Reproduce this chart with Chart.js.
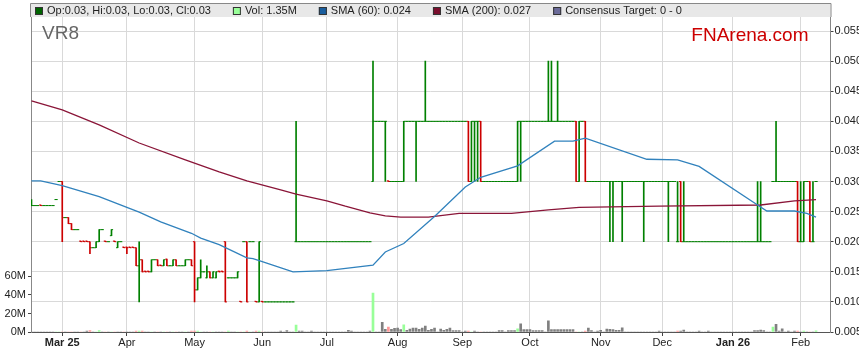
<!DOCTYPE html>
<html>
<head>
<meta charset="utf-8">
<title>VR8</title>
<script src="https://cdn.jsdelivr.net/npm/chart.js@4.4.1/dist/chart.umd.min.js"></script>
<style>
  html, body { margin: 0; padding: 0; background: #fff; }
  #wrap { width: 859px; height: 363px; }
</style>
</head>
<body>
<div id="wrap"><canvas id="graphCanvas" width="859" height="363"></canvas></div>
<script>
// one entry per weekday, starting Mon 17 Feb 2025
var startDate = "2025-02-17";
var monthLabels = ["Mar 25", "Apr", "May", "Jun", "Jul", "Aug", "Sep", "Oct", "Nov", "Dec", "Jan 26", "Feb"];
var volTicks = [0, 20, 40, 60];

var opens = [
  0.026, 0.026, 0.026, 0.0261, 0.026, 0.026, 0.026, 0.026, 0.027, 0.030,
  0.030, 0.024, 0.024, 0.023, 0.022, 0.022, 0.0201, 0.0201, 0.0201, 0.020,
  0.019, 0.019, 0.020, 0.022, 0.0201, 0.020, 0.021, 0.0201, 0.019, 0.020,
  0.0191, 0.0191, 0.0191, 0.0191, 0.019, 0.016, 0.017, 0.0151, 0.0151, 0.015,
  0.017, 0.017, 0.0161, 0.016, 0.0171, 0.016, 0.016, 0.017, 0.016, 0.016,
  0.016, 0.017, 0.017, 0.020, 0.012, 0.014, 0.015, 0.014, 0.015, 0.014,
  0.014, 0.0151, 0.0151, 0.020, 0.014, 0.014, 0.014, 0.014, 0.0101, 0.020,
  0.020, 0.020, 0.020, 0.0101, 0.010, 0.0101, 0.010, 0.010, 0.010, 0.010,
  0.010, 0.010, 0.010, 0.010, 0.010, 0.010, 0.020, 0.020, 0.020, 0.020,
  0.020, 0.020, 0.020, 0.020, 0.020, 0.020, 0.020, 0.020, 0.020, 0.020,
  0.020, 0.020, 0.020, 0.020, 0.020, 0.020, 0.020, 0.020, 0.020, 0.020,
  0.020, 0.030, 0.040, 0.040, 0.040, 0.040, 0.0301, 0.030, 0.030, 0.030,
  0.030, 0.030, 0.040, 0.040, 0.040, 0.040, 0.040, 0.040, 0.040, 0.040,
  0.040, 0.040, 0.040, 0.040, 0.040, 0.040, 0.040, 0.040, 0.040, 0.040,
  0.040, 0.040, 0.040, 0.030, 0.040, 0.040, 0.040, 0.030, 0.030, 0.030,
  0.030, 0.030, 0.030, 0.030, 0.030, 0.030, 0.030, 0.030, 0.030, 0.040,
  0.040, 0.040, 0.040, 0.040, 0.040, 0.040, 0.040, 0.040, 0.040, 0.040,
  0.040, 0.040, 0.040, 0.040, 0.040, 0.040, 0.040, 0.040, 0.030, 0.040,
  0.040, 0.030, 0.030, 0.030, 0.030, 0.030, 0.030, 0.030, 0.030, 0.030,
  0.030, 0.030, 0.030, 0.030, 0.030, 0.030, 0.030, 0.030, 0.030, 0.030,
  0.030, 0.030, 0.030, 0.030, 0.030, 0.030, 0.030, 0.030, 0.030, 0.030,
  0.020, 0.030, 0.020, 0.020, 0.020, 0.020, 0.020, 0.020, 0.020, 0.020,
  0.020, 0.020, 0.020, 0.020, 0.020, 0.020, 0.020, 0.020, 0.020, 0.020,
  0.020, 0.020, 0.020, 0.020, 0.020, 0.020, 0.020, 0.020, 0.020, 0.020,
  0.020, 0.030, 0.030, 0.030, 0.030, 0.030, 0.030, 0.030, 0.030, 0.030,
  0.020, 0.020, 0.030, 0.030, 0.020, 0.030
];
var highs = [
  0.027, 0.026, 0.026, 0.0261, 0.026, 0.026, 0.026, 0.026, 0.027, 0.030,
  0.030, 0.024, 0.024, 0.023, 0.022, 0.022, 0.0201, 0.0201, 0.0201, 0.020,
  0.019, 0.020, 0.022, 0.022, 0.0201, 0.020, 0.022, 0.0201, 0.020, 0.020,
  0.0191, 0.0191, 0.0191, 0.0191, 0.019, 0.020, 0.017, 0.0151, 0.0151, 0.017,
  0.017, 0.017, 0.0161, 0.017, 0.0171, 0.016, 0.017, 0.017, 0.016, 0.016,
  0.017, 0.017, 0.017, 0.020, 0.014, 0.017, 0.015, 0.016, 0.015, 0.015,
  0.015, 0.0151, 0.0151, 0.020, 0.014, 0.014, 0.014, 0.015, 0.0101, 0.020,
  0.020, 0.020, 0.020, 0.0101, 0.020, 0.0101, 0.010, 0.010, 0.010, 0.010,
  0.010, 0.010, 0.010, 0.010, 0.010, 0.010, 0.040, 0.020, 0.020, 0.020,
  0.020, 0.020, 0.020, 0.020, 0.020, 0.020, 0.020, 0.020, 0.020, 0.020,
  0.020, 0.020, 0.020, 0.020, 0.020, 0.020, 0.020, 0.020, 0.020, 0.020,
  0.020, 0.050, 0.040, 0.040, 0.040, 0.040, 0.0301, 0.030, 0.030, 0.030,
  0.030, 0.040, 0.040, 0.040, 0.040, 0.040, 0.040, 0.040, 0.050, 0.040,
  0.040, 0.040, 0.040, 0.040, 0.040, 0.040, 0.040, 0.040, 0.040, 0.040,
  0.040, 0.040, 0.040, 0.040, 0.040, 0.040, 0.040, 0.030, 0.030, 0.030,
  0.030, 0.030, 0.030, 0.030, 0.030, 0.030, 0.030, 0.030, 0.040, 0.040,
  0.040, 0.040, 0.040, 0.040, 0.040, 0.040, 0.040, 0.040, 0.050, 0.050,
  0.040, 0.050, 0.040, 0.040, 0.040, 0.040, 0.040, 0.040, 0.040, 0.040,
  0.040, 0.030, 0.030, 0.030, 0.030, 0.030, 0.030, 0.030, 0.030, 0.030,
  0.030, 0.030, 0.030, 0.030, 0.030, 0.030, 0.030, 0.030, 0.030, 0.030,
  0.030, 0.030, 0.030, 0.030, 0.030, 0.030, 0.030, 0.030, 0.030, 0.030,
  0.030, 0.030, 0.030, 0.020, 0.020, 0.020, 0.020, 0.020, 0.020, 0.020,
  0.020, 0.020, 0.020, 0.020, 0.020, 0.020, 0.020, 0.020, 0.020, 0.020,
  0.020, 0.020, 0.020, 0.020, 0.020, 0.020, 0.030, 0.030, 0.020, 0.020,
  0.020, 0.030, 0.040, 0.030, 0.030, 0.030, 0.030, 0.030, 0.030, 0.030,
  0.030, 0.030, 0.030, 0.030, 0.030, 0.030
];
var lows = [
  0.026, 0.026, 0.026, 0.026, 0.026, 0.026, 0.026, 0.026, 0.027, 0.030,
  0.020, 0.024, 0.023, 0.022, 0.022, 0.022, 0.020, 0.020, 0.020, 0.018,
  0.019, 0.019, 0.020, 0.022, 0.020, 0.020, 0.021, 0.020, 0.019, 0.020,
  0.019, 0.018, 0.019, 0.019, 0.016, 0.010, 0.015, 0.015, 0.015, 0.015,
  0.017, 0.016, 0.016, 0.016, 0.016, 0.016, 0.016, 0.016, 0.016, 0.016,
  0.016, 0.017, 0.016, 0.010, 0.012, 0.014, 0.015, 0.014, 0.014, 0.014,
  0.014, 0.015, 0.015, 0.010, 0.014, 0.014, 0.014, 0.014, 0.010, 0.020,
  0.010, 0.020, 0.020, 0.010, 0.010, 0.010, 0.010, 0.010, 0.010, 0.010,
  0.010, 0.010, 0.010, 0.010, 0.010, 0.010, 0.020, 0.020, 0.020, 0.020,
  0.020, 0.020, 0.020, 0.020, 0.020, 0.020, 0.020, 0.020, 0.020, 0.020,
  0.020, 0.020, 0.020, 0.020, 0.020, 0.020, 0.020, 0.020, 0.020, 0.020,
  0.020, 0.030, 0.040, 0.040, 0.040, 0.030, 0.030, 0.030, 0.030, 0.030,
  0.030, 0.030, 0.040, 0.040, 0.040, 0.030, 0.040, 0.040, 0.040, 0.040,
  0.040, 0.040, 0.040, 0.040, 0.040, 0.040, 0.040, 0.040, 0.040, 0.040,
  0.040, 0.040, 0.030, 0.030, 0.030, 0.030, 0.030, 0.030, 0.030, 0.030,
  0.030, 0.030, 0.030, 0.030, 0.030, 0.030, 0.030, 0.030, 0.030, 0.030,
  0.040, 0.040, 0.040, 0.040, 0.040, 0.040, 0.040, 0.040, 0.040, 0.040,
  0.040, 0.040, 0.040, 0.040, 0.040, 0.040, 0.040, 0.030, 0.030, 0.040,
  0.030, 0.030, 0.030, 0.030, 0.030, 0.030, 0.030, 0.030, 0.020, 0.020,
  0.030, 0.030, 0.020, 0.030, 0.030, 0.030, 0.030, 0.030, 0.030, 0.020,
  0.030, 0.030, 0.030, 0.030, 0.030, 0.030, 0.030, 0.020, 0.030, 0.030,
  0.020, 0.020, 0.020, 0.020, 0.020, 0.020, 0.020, 0.020, 0.020, 0.020,
  0.020, 0.020, 0.020, 0.020, 0.020, 0.020, 0.020, 0.020, 0.020, 0.020,
  0.020, 0.020, 0.020, 0.020, 0.020, 0.020, 0.020, 0.020, 0.020, 0.020,
  0.020, 0.030, 0.030, 0.030, 0.030, 0.030, 0.030, 0.030, 0.030, 0.020,
  0.020, 0.020, 0.030, 0.020, 0.020, 0.030
];
var closes = [
  0.026, 0.026, 0.026, 0.026, 0.026, 0.026, 0.026, 0.026, 0.027, 0.030,
  0.024, 0.024, 0.023, 0.022, 0.022, 0.022, 0.020, 0.020, 0.020, 0.019,
  0.019, 0.020, 0.022, 0.022, 0.020, 0.020, 0.022, 0.020, 0.020, 0.020,
  0.019, 0.019, 0.019, 0.019, 0.016, 0.017, 0.015, 0.015, 0.015, 0.017,
  0.017, 0.016, 0.016, 0.017, 0.016, 0.016, 0.017, 0.016, 0.016, 0.016,
  0.017, 0.017, 0.016, 0.012, 0.014, 0.015, 0.015, 0.015, 0.014, 0.015,
  0.015, 0.015, 0.015, 0.010, 0.014, 0.014, 0.014, 0.015, 0.010, 0.020,
  0.010, 0.020, 0.020, 0.010, 0.020, 0.010, 0.010, 0.010, 0.010, 0.010,
  0.010, 0.010, 0.010, 0.010, 0.010, 0.010, 0.020, 0.020, 0.020, 0.020,
  0.020, 0.020, 0.020, 0.020, 0.020, 0.020, 0.020, 0.020, 0.020, 0.020,
  0.020, 0.020, 0.020, 0.020, 0.020, 0.020, 0.020, 0.020, 0.020, 0.020,
  0.020, 0.040, 0.040, 0.040, 0.040, 0.040, 0.030, 0.030, 0.030, 0.030,
  0.030, 0.040, 0.040, 0.040, 0.040, 0.040, 0.040, 0.040, 0.040, 0.040,
  0.040, 0.040, 0.040, 0.040, 0.040, 0.040, 0.040, 0.040, 0.040, 0.040,
  0.040, 0.040, 0.030, 0.040, 0.040, 0.040, 0.030, 0.030, 0.030, 0.030,
  0.030, 0.030, 0.030, 0.030, 0.030, 0.030, 0.030, 0.030, 0.040, 0.040,
  0.040, 0.040, 0.040, 0.040, 0.040, 0.040, 0.040, 0.040, 0.040, 0.040,
  0.040, 0.040, 0.040, 0.040, 0.040, 0.040, 0.040, 0.030, 0.040, 0.040,
  0.030, 0.030, 0.030, 0.030, 0.030, 0.030, 0.030, 0.030, 0.030, 0.030,
  0.030, 0.030, 0.030, 0.030, 0.030, 0.030, 0.030, 0.030, 0.030, 0.030,
  0.030, 0.030, 0.030, 0.030, 0.030, 0.030, 0.030, 0.030, 0.030, 0.030,
  0.020, 0.020, 0.020, 0.020, 0.020, 0.020, 0.020, 0.020, 0.020, 0.020,
  0.020, 0.020, 0.020, 0.020, 0.020, 0.020, 0.020, 0.020, 0.020, 0.020,
  0.020, 0.020, 0.020, 0.020, 0.020, 0.020, 0.020, 0.020, 0.020, 0.020,
  0.020, 0.030, 0.030, 0.030, 0.030, 0.030, 0.030, 0.030, 0.030, 0.020,
  0.020, 0.030, 0.030, 0.020, 0.020, 0.030
];
// volume in millions of shares
var volumes = [
  0, 0, 0, 0, 0, 0, 0, 0, 0, 0,
  0, 0, 0, 0, 0, 0, 0, 0, 1.0, 1.4,
  0, 0, 1.4, 0, 0, 0, 0, 0, 0, 0,
  0, 0, 0, 0, 1.0, 1.0, 1.0, 0, 0, 0,
  0, 0, 0, 0, 0, 0, 0, 0, 0, 0,
  0, 0, 1.0, 1.0, 1.0, 0, 0, 0, 0, 0,
  0, 0, 0, 0, 1.0, 0, 0, 0, 0, 0,
  1.0, 0, 0, 1.0, 1.0, 0, 0, 0, 0, 0,
  0, 1.0, 0, 1.4, 0, 0, 7.4, 1.0, 1.0, 0,
  0, 1.0, 0, 0, 0, 0, 0, 0, 0, 0,
  0, 0, 0, 1.8, 1.0, 0, 0, 0, 0, 0,
  1.0, 42, 0, 0, 10.5, 2.8, 5.3, 2.8, 3.9, 4.2,
  2.5, 7.7, 1.8, 3.2, 4.2, 4.2, 2.8, 4.2, 6.3, 1.8,
  2.8, 4.2, 0, 3.2, 1.8, 2.8, 4.2, 1.4, 1.4, 1.4,
  0, 1.0, 1.0, 0, 1.0, 0, 0, 0, 0, 0,
  0, 0, 1.4, 1.4, 0, 1.4, 1.4, 1.4, 3.5, 8.8,
  2.5, 2.5, 2.5, 1.4, 1.4, 1.4, 1.4, 0, 12, 2.5,
  2.5, 2.5, 2.5, 2.5, 2.5, 2.5, 2.5, 0, 0, 0,
  1.0, 4.2, 1.4, 0, 1.0, 1.8, 0, 3.2, 2.8, 2.5,
  1.8, 1.8, 4.6, 0, 0, 0, 0, 0, 0, 0,
  0, 0, 0, 0, 1.0, 0, 0, 0, 0, 0,
  1.0, 1.0, 2.1, 0, 0, 0, 0, 1.0, 0, 0,
  1.0, 0, 0, 0, 0, 0, 0, 0, 0, 0,
  0, 0, 0, 0, 0, 1.4, 1.4, 2.1, 1.4, 0,
  0, 5.3, 8.4, 1.0, 3.5, 0, 1.0, 0, 1.0, 1.0,
  0, 1.0, 0, 0, 0, 1.35
];

// moving averages (day index, value)
var sma60Days = [0, 3, 10, 22, 31, 35, 42, 52, 55, 61, 70, 72, 75, 85, 96, 111, 115, 121, 131, 141, 146, 158, 170, 176, 180, 200, 210, 217, 236, 239, 248, 252, 255];
var sma60 = [0.0301, 0.0301, 0.0293, 0.0275, 0.0257, 0.0249, 0.0233, 0.0214, 0.0206, 0.0195, 0.0173, 0.0172, 0.0167, 0.0150, 0.0152, 0.0161, 0.0183, 0.0197, 0.0242, 0.0291, 0.0307, 0.0326, 0.0367, 0.0367, 0.0372, 0.0337, 0.0336, 0.0325, 0.0261, 0.0251, 0.0251, 0.0247, 0.0241];
var sma200Days = [0, 10, 22, 35, 50, 61, 70, 81, 86, 96, 102, 110, 115, 120, 129, 139, 156, 168, 178, 204, 237, 248, 255];
var sma200 = [0.0434, 0.0419, 0.0394, 0.0364, 0.0336, 0.0316, 0.0301, 0.0286, 0.0279, 0.0268, 0.0259, 0.0248, 0.0243, 0.0241, 0.0241, 0.0247, 0.0247, 0.0253, 0.0257, 0.0259, 0.0261, 0.0268, 0.0270];

[opens, highs, lows, volumes].forEach(function (a) {
  if (a.length !== closes.length) throw new Error("array length " + a.length + " vs " + closes.length);
});

showGraph();

function showGraph() {
  var upColor = "#008000";
  var downColor = "#cc0000";
  var fontFamily = '"Liberation Sans", Arial, sans-serif';
  Chart.defaults.font.family = fontFamily;
  Chart.defaults.font.size = 11;
  Chart.defaults.color = "#222";

  // weekday calendar and first weekday of each month
  var days = [];
  var d = new Date(startDate + "T00:00:00Z");
  while (days.length < closes.length) {
    var wd = d.getUTCDay();
    if (wd !== 0 && wd !== 6) days.push(new Date(d.getTime()));
    d.setUTCDate(d.getUTCDate() + 1);
  }
  var monthStarts = [];
  for (var i = 1; i < days.length; i++) {
    if (days[i].getUTCMonth() !== days[i - 1].getUTCMonth()) monthStarts.push(i);
  }

  var barColors = [];
  var rangeData = [];
  var tickData = [];
  var tickColors = [];
  var volData = [];
  var volColors = [];
  for (var i = 0; i < closes.length; i++) {
    var col = closes[i] >= opens[i] ? upColor : downColor;
    barColors.push(col);
    rangeData.push({ x: i, y: [lows[i], highs[i]] });
    tickData.push({ x: i - 0.25, y: opens[i] });
    tickColors.push(col);
    tickData.push({ x: i + 0.25, y: closes[i] });
    tickColors.push(col);
    volData.push({ x: i, y: volumes[i] * 1e6 });
    var vc = "#808080";
    if (i > 0 && closes[i] > closes[i - 1]) vc = "#99ff99";
    if (i > 0 && closes[i] < closes[i - 1]) vc = "#ff9999";
    volColors.push(vc);
  }

  var last = closes.length - 1;
  var legendTexts = [
    "Op:" + opens[last].toFixed(2) + ", Hi:" + highs[last].toFixed(2) + ", Lo:" + lows[last].toFixed(2) + ", Cl:" + closes[last].toFixed(2),
    "Vol: " + volumes[last] + "M",
    "SMA (60): " + sma60[sma60.length - 1].toFixed(3),
    "SMA (200): " + sma200[sma200.length - 1].toFixed(3),
    "Consensus Target: 0 - 0"
  ];
  var legendColors = ["#006400", "#99ff99", "#1a5e9e", "#7a0f2e", "#6b6b99"];

  var overlay = {
    id: "overlay",
    beforeDatasetsDraw: function (chart) {
      var ctx = chart.ctx, a = chart.chartArea;
      ctx.save();
      ctx.font = "19px " + fontFamily;
      ctx.textBaseline = "alphabetic";
      ctx.fillStyle = "#666";
      ctx.textAlign = "left";
      ctx.fillText("VR8", a.left + 11, 39);
      ctx.fillStyle = "#cc0000";
      ctx.textAlign = "right";
      ctx.fillText("FNArena.com", a.right - 22, 41);
      ctx.restore();
    },
    afterDraw: function (chart) {
      var ctx = chart.ctx, a = chart.chartArea;
      ctx.save();
      ctx.fillStyle = "#e8e8e8";
      ctx.fillRect(a.left, 3, a.right - a.left, a.top - 3);
      ctx.strokeStyle = "#888";
      ctx.lineWidth = 1;
      ctx.beginPath();
      ctx.moveTo(a.left - 0.5, a.top);
      ctx.lineTo(a.left - 0.5, 3.5);
      ctx.lineTo(a.right + 0.5, 3.5);
      ctx.lineTo(a.right + 0.5, a.top);
      ctx.stroke();
      ctx.font = "11px " + fontFamily;
      ctx.textBaseline = "middle";
      ctx.textAlign = "left";
      var x = a.left + 4;
      for (var k = 0; k < legendTexts.length; k++) {
        ctx.fillStyle = legendColors[k];
        ctx.fillRect(x, 7, 8, 8);
        ctx.strokeStyle = "#333";
        ctx.strokeRect(x + 0.5, 7.5, 7, 7);
        ctx.fillStyle = "#222";
        ctx.fillText(legendTexts[k], x + 12, 11);
        x += 12 + ctx.measureText(legendTexts[k]).width + 22;
      }
      ctx.restore();
    }
  };

  new Chart(document.getElementById("graphCanvas"), {
    type: "line",
    data: {
      datasets: [
        {
          label: "SMA (60)",
          type: "line",
          yAxisID: "yPrice",
          data: sma60Days.map(function (v, k) { return { x: v, y: sma60[k] }; }),
          borderColor: "#3182bd",
          borderWidth: 1.3,
          pointRadius: 0,
          tension: 0,
          order: 0
        },
        {
          label: "SMA (200)",
          type: "line",
          yAxisID: "yPrice",
          data: sma200Days.map(function (v, k) { return { x: v, y: sma200[k] }; }),
          borderColor: "#8a1538",
          borderWidth: 1.3,
          pointRadius: 0,
          tension: 0,
          order: 0
        },
        {
          label: "Open/Close",
          type: "line",
          yAxisID: "yPrice",
          data: tickData,
          showLine: false,
          pointStyle: "line",
          pointRadius: 0.85,
          pointHoverRadius: 0.85,
          pointBorderWidth: 1,
          pointBorderColor: tickColors,
          pointBackgroundColor: tickColors,
          order: 1
        },
        {
          label: "High/Low",
          type: "bar",
          yAxisID: "yPrice",
          data: rangeData,
          backgroundColor: barColors,
          barThickness: 1,
          grouped: false,
          order: 1
        },
        {
          label: "Vol",
          type: "bar",
          yAxisID: "yVol",
          data: volData,
          backgroundColor: volColors,
          barThickness: 2,
          grouped: false,
          order: 3
        }
      ]
    },
    options: {
      responsive: false,
      animation: false,
      devicePixelRatio: 1,
      layout: { padding: { top: 17, left: 0, right: 0, bottom: 0 } },
      plugins: { legend: { display: false }, tooltip: { enabled: false } },
      events: [],
      scales: {
        x: {
          type: "linear",
          min: -0.16,
          max: 259.7,
          offset: false,
          afterBuildTicks: function (s) {
            s.ticks = monthStarts.map(function (v) { return { value: v }; });
          },
          afterFit: function (s) { s.height = 31; },
          ticks: {
            autoSkip: false,
            maxRotation: 0,
            padding: 0,
            color: "#222",
            callback: function (v, k) { return monthLabels[k]; },
            font: function (c) {
              var lab = monthLabels[c.index] || "";
              return { size: 11, weight: /\d/.test(lab) ? "bold" : "normal" };
            }
          },
          grid: { color: "#d9d9d9", offset: false, tickLength: 4, tickColor: "#444" },
          border: { color: "#555" }
        },
        yPrice: {
          position: "right",
          min: 0.005,
          max: 0.05733,
          afterFit: function (s) { s.width = 28.5; },
          ticks: {
            stepSize: 0.005,
            includeBounds: false,
            padding: 1,
            color: "#222",
            callback: function (v) { return v.toFixed(3); }
          },
          grid: { color: "#d9d9d9", tickLength: 3, tickColor: "#444" },
          border: { color: "#888" }
        },
        yVol: {
          position: "left",
          min: 0,
          max: 340e6,
          afterBuildTicks: function (s) {
            s.ticks = volTicks.map(function (v) { return { value: v * 1e6 }; });
          },
          afterFit: function (s) { s.width = 31; },
          ticks: {
            padding: 2,
            color: "#222",
            callback: function (v) { return v / 1e6 + "M"; }
          },
          grid: { drawOnChartArea: false, tickLength: 3, tickColor: "#444" },
          border: { color: "#888" }
        }
      }
    },
    plugins: [overlay]
  });
}
</script>
</body>
</html>
